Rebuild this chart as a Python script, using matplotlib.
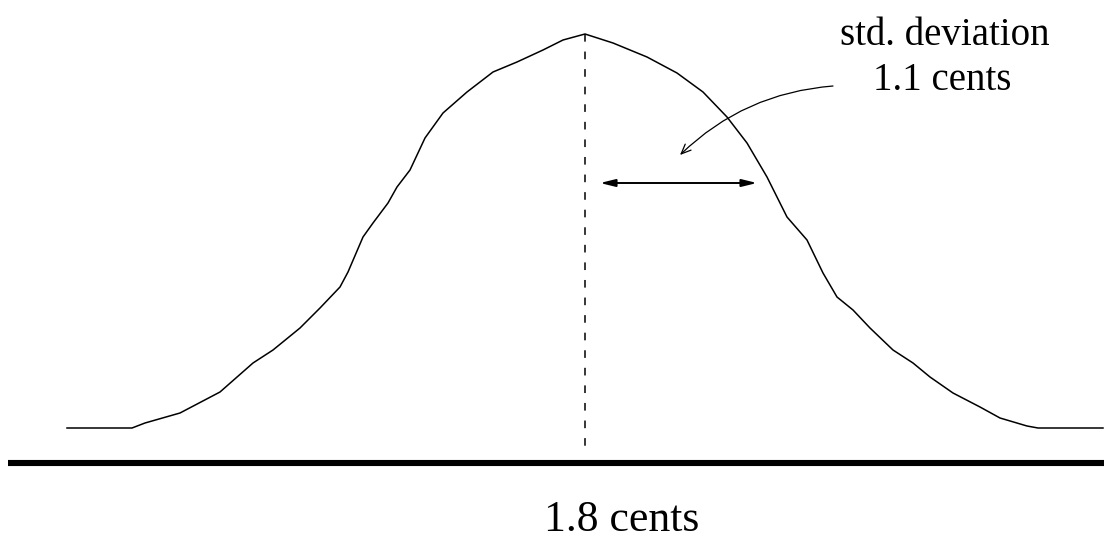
import matplotlib.pyplot as plt

# Bell curve traced as line segments (x, y in image pixels, y grows downward)
curve_x = [67, 132, 145, 180, 220, 253, 273, 300, 320, 340, 348, 363, 373, 388, 397,
           410, 425, 443, 467, 493, 517, 543, 563, 585, 613, 647, 677, 703, 727,
           747, 767, 787, 807, 823, 837, 853, 870, 893, 913, 930, 953, 980, 1000,
           1027, 1038, 1103]
curve_y = [428, 428, 423, 413, 392, 363, 350, 328, 308, 287, 272, 237, 223, 203, 187,
           170, 138, 113, 92, 72, 62, 50, 40, 34, 43, 57, 73, 92, 117,
           143, 177, 217, 240, 273, 297, 310, 328, 350, 363, 377, 393, 407, 418,
           426, 428, 428]

mean_x = 585
mean_top = 34
baseline_y = 463
std_start, std_end, std_y = 600, 757, 183

mean_label = "1.8 cents"
std_label_1 = "std. deviation"
std_label_2 = "1.1 cents"

fig = plt.figure(figsize=(11.04, 5.39), dpi=100)
ax = fig.add_axes([0, 0, 1, 1])
ax.set_xlim(0, 1104)
ax.set_ylim(539, 0)
ax.axis('off')

# thick axis line
ax.plot([8, 1104], [baseline_y, baseline_y], color='black', lw=4.4, solid_capstyle='butt')

# the curve
ax.plot(curve_x, curve_y, color='black', lw=1.1)

# dashed mean line
ax.plot([mean_x, mean_x], [mean_top, 451], color='black', lw=1.1,
        linestyle=(0, (5, 6.5)))

# double arrow for one std. deviation
ax.annotate('', xy=(std_end, std_y), xytext=(std_start, std_y),
            arrowprops=dict(arrowstyle='<|-|>,head_length=0.9,head_width=0.22',
                            color='black', lw=1.4, shrinkA=0, shrinkB=0))

# curved pointer from label
ax.annotate('', xy=(680, 155), xytext=(833, 86),
            arrowprops=dict(arrowstyle='->,head_length=0.7,head_width=0.3',
                            color='black', lw=0.9, shrinkA=0, shrinkB=0,
                            connectionstyle='arc3,rad=0.18'))

ax.text(945, 45, std_label_1, ha='center', va='baseline', fontsize=28,
        family='Liberation Serif')
ax.text(942, 90, std_label_2, ha='center', va='baseline', fontsize=28,
        family='Liberation Serif')
ax.text(622, 531, mean_label, ha='center', va='baseline', fontsize=31.5,
        family='Liberation Serif')

plt.savefig('out.png', dpi=100)
